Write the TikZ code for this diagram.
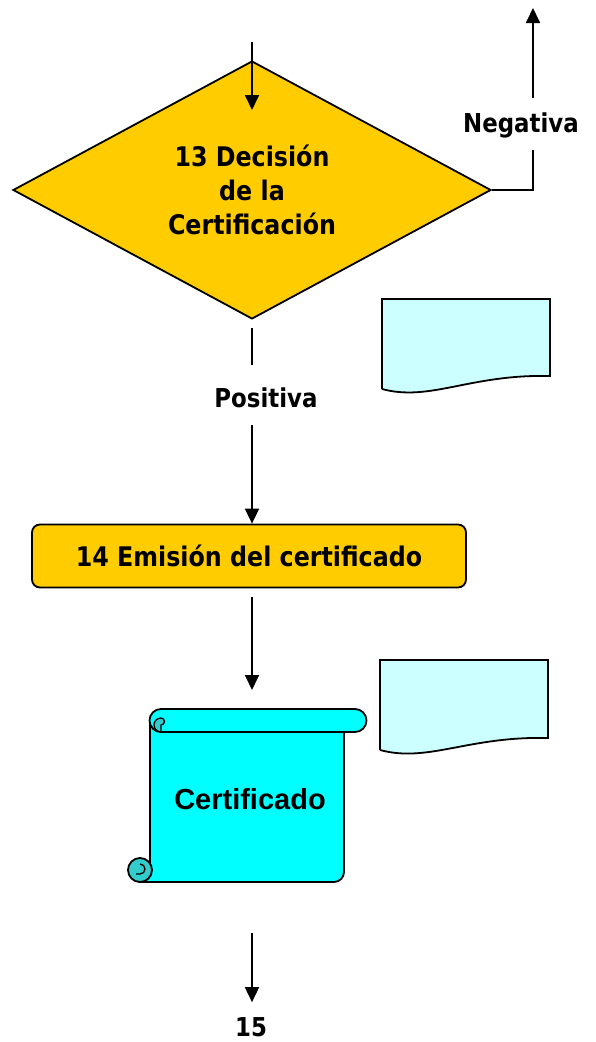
\documentclass[tikz,border=0pt]{standalone}
\usepackage{fontspec}
\setmainfont{DejaVu Sans}[FakeStretch = 0.88]
\newfontfamily\arialfont{Liberation Sans}
\usetikzlibrary{shapes.geometric, arrows.meta}
\definecolor{gold}{HTML}{FFCC00}
\definecolor{paleblue}{HTML}{CCFFFF}
\definecolor{scrollcyan}{HTML}{00FFFF}
\definecolor{curlcyan}{HTML}{33CCCC}

\tikzset{
  flow/.style = {line width = 1.8pt, -{Triangle[width = 14pt, length = 15pt]}},
  plain/.style = {line width = 1.8pt},
  lbl/.style = {inner sep = 0pt, font = \fontsize{26}{30}\selectfont\bfseries},
  docshape/.style = {line width = 1.8pt, draw = black, fill = paleblue},
  scrollpart/.style = {line width = 1.8pt, draw = black, fill = scrollcyan},
}

\begin{document}
\begin{tikzpicture}[x = 1pt, y = -1pt]

\useasboundingbox (0, 0) rectangle (595, 1042);

% decision
\node[diamond, line width = 1.8pt, draw = black, fill = gold, inner sep = 0pt, minimum width = 478pt, minimum height = 244pt, align = center, font = \fontsize{27}{34}\selectfont\bfseries] (dec) at (252, 190) {13 Decisión\\de la\\Certificación};

\coordinate (decin) at (252, 42);
\coordinate (decarrow) at (252, 110);
\node[lbl] (neg) at (521, 125) {Negativa};
\coordinate (negend) at (533, 8);

\draw[flow] (decin) -- (decarrow);
\draw[plain] (dec.east) -| ([xshift = 12pt, yshift = -12pt]neg.south);
\draw[flow] ([xshift = 12pt, yshift = 14pt]neg.north) -- (negend);

% positive branch
\node[lbl] (pos) at (266, 398) {Positiva};
\node[rectangle, rounded corners = 8pt, line width = 1.8pt, draw = black, fill = gold, minimum width = 434pt, minimum height = 63pt, font = \fontsize{27}{30}\selectfont\bfseries] (emit) at (249, 556) {14 Emisión del certificado};

\coordinate (posout) at (252, 365);
\coordinate (posin) at (252, 425);
\draw[plain] ([yshift = -8pt]dec.south) -- (posout);
\draw[flow] (posin) -- (emit.north -| posin);

% documents
\draw[docshape] (382, 389) -- (382, 299) -- (550, 299) -- (550, 376) .. controls (470, 374) and (430, 402) .. (382, 389);
\draw[docshape] (380, 750) -- (380, 660) -- (548, 660) -- (548, 738) .. controls (468, 736) and (428, 763) .. (380, 750);

% certificate scroll
\coordinate (emitout) at (252, 597);
\coordinate (certin) at (252, 690);
\draw[flow] (emitout) -- (certin);

\draw[scrollpart] (150, 722) -- (150, 868) -- (140, 882) -- (334, 882) arc[start angle = 90, end angle = 0, radius = 10] -- (344, 728);
\draw[scrollpart] (161, 709) -- (355, 709) arc[start angle = 270, end angle = 450, radius = 11.5] -- (161, 732) arc[start angle = 90, end angle = 270, radius = 11.5];
\draw[line width = 1.3pt, fill = curlcyan] (161, 732) arc[start angle = 90, end angle = 270, radius = 7] arc[start angle = 270, end angle = 450, radius = 3.5] -- cycle;
\draw[line width = 1.8pt, fill = curlcyan] (140, 870) circle[radius = 12];
\draw[line width = 1.3pt] (140, 864) arc[start angle = 270, end angle = 450, radius = 5] -- (136, 874);
\node[font = \arialfont\fontsize{29}{32}\selectfont\bfseries] (cert) at (250, 799) {Certificado};

% exit
\coordinate (exitin) at (252, 933);
\node[lbl] (next) at (251, 1027) {15};
\draw[flow] (exitin) -- ([yshift = 15pt]next.north -| exitin);

\end{tikzpicture}
\end{document}
